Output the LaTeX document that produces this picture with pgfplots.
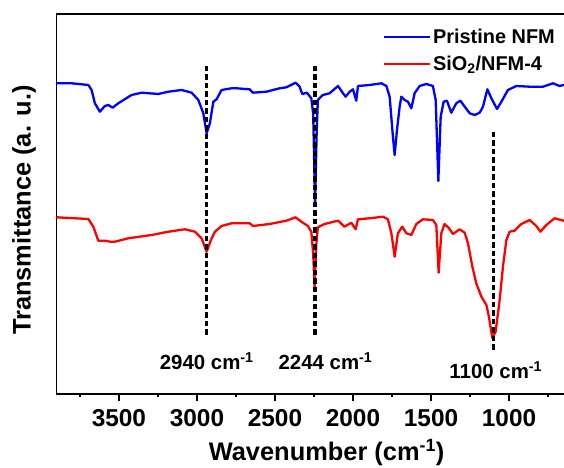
\documentclass[border=0pt]{standalone}
\usepackage{pgfplots}
\pgfplotsset{compat=1.18}
\usepackage{fontspec}
\setmainfont{Liberation Sans}

\definecolor{specblue}{RGB}{0,0,255}
\definecolor{specred}{RGB}{255,0,0}

% FTIR spectra (wavenumber, offset transmittance in arbitrary units)
\pgfplotstableread{
w v
3900 310.7
3803 310.7
3696 309
3675 304
3654 290.7
3622 282.3
3590 288
3568 289
3540 286.3
3504 290.7
3419 299
3354 301.3
3247 300
3183 302.3
3098 304
3034 301.3
2991 294
2959 280.7
2938 260.7
2917 270.7
2895 292.3
2874 294.7
2842 304
2778 305.7
2748 305.7
2662 304.7
2641 301.3
2555 302.3
2470 305.7
2427 306.7
2368 311.3
2342 307.3
2325 300
2295 301.3
2267 295.7
2255 280
2243 190
2233 260
2225 294
2193 299
2150 300.7
2096 308
2064 300.7
2047 297.3
2021 302.3
2000 304.7
1979 293.3
1968 308
1893 309
1818 310.7
1786 308
1765 297.3
1744 257.3
1733 239
1718 264
1701 287.3
1690 297.3
1669 294
1648 292.3
1626 285.7
1605 300.7
1573 308
1530 310
1488 308
1470 294
1453 213
1438 277.3
1419 292.3
1398 293.3
1370 281.3
1338 290.7
1312 293.3
1284 287.3
1252 280.7
1220 279
1188 281.3
1167 287.3
1139 304.7
1113 295.7
1077 285
1049 292.3
1007 304
953 308
868 307.3
782 307.3
718 310.7
676 308
650 309
640 309
}\pristine

\pgfplotstableread{
w v
3900 176.7
3696 175
3664 167.3
3632 153.3
3590 153.3
3558 152.3
3526 152.3
3440 155.7
3290 159
3183 162.3
3077 164.7
3013 162.3
2970 155.7
2938 142.3
2910 154
2885 162.3
2842 168
2778 170.7
2662 170.7
2641 168
2534 170
2427 173.3
2368 176.7
2331 172.3
2289 168
2267 162.3
2255 140
2246 106.7
2235 150
2225 166.7
2182 170
2096 173.3
2054 167.3
2011 171.3
1983 164.7
1968 174.7
1893 175.7
1808 177.3
1776 174.7
1754 160.7
1733 137.3
1712 160.7
1684 167.3
1658 160.7
1626 159
1594 170
1552 174.7
1488 174
1466 169
1451 121.3
1434 160.7
1413 170
1385 165.7
1359 160
1317 164.7
1284 161.3
1263 150.7
1235 127.3
1210 110.7
1177 97.3
1145 89
1129 77.3
1107 56
1086 62.3
1060 94
1039 127.3
1017 154
996 162.3
964 163.3
921 170
868 174
825 168
799 162.3
761 169
708 175.7
650 173.3
640 173
}\composite

\begin{document}
\begin{tikzpicture}[x=1bp,y=1bp]
\useasboundingbox (0,0) rectangle (564,468);
\begin{axis}[
  at={(56.5bp,74bp)}, anchor=south west,
  width=508.7bp, height=380bp, scale only axis,
  x dir=reverse, xmin=640, xmax=3900, ymin=0, ymax=380,
  ytick=\empty,
  xtick={1000,1500,2000,2500,3000,3500},
  xticklabels={1000,1500,2000,2500,3000,3500},
  minor xtick={750,1250,1750,2250,2750,3250,3750},
  xtick pos=left, tick align=outside,
  major tick length=7bp, minor tick length=3.5bp,
  tick style={black, line width=1.6bp},
  axis line style={line width=1.8bp},
  xticklabel style={font=\bfseries\fontsize{24.5}{24.5}\selectfont, anchor=base, yshift=-26bp},
  every axis x label/.style={at={(axis description cs:0.531,-0.175)}, anchor=base,
    font=\bfseries\fontsize{25.5}{25.5}\selectfont},
  every axis y label/.style={at={(axis description cs:-0.064,0.484)}, anchor=center, rotate=90,
    font=\bfseries\fontsize{25.5}{25.5}\selectfont},
  xlabel={Wavenumber (cm\textsuperscript{-1})},
  ylabel={Transmittance (a. u.)},
  legend style={at={(axis description cs:0.636,0.97)}, anchor=north west,
    draw=none, fill=none, font=\bfseries\fontsize{20}{20}\selectfont,
    row sep=8bp, nodes={inner sep=1.5bp}},
  legend cell align=left,
  legend image code/.code={\draw[#1, line width=2.3bp] (0bp,0bp) -- (46bp,0bp);},
]
\addplot[specblue, line width=2.3bp, line join=round] table[x=w, y=v] {\pristine};
\addlegendentry{Pristine NFM}
\addplot[specred, line width=2.3bp, line join=round] table[x=w, y=v] {\composite};
\addlegendentry{SiO\textsubscript{2}/NFM-4}

% band markers
\addplot[black, line width=3.2bp, dash pattern=on 5.5bp off 3bp, forget plot]
  coordinates {(2940,59) (2940,331)};
\addplot[black, line width=3.2bp, dash pattern=on 5.5bp off 3bp, forget plot]
  coordinates {(2244,59) (2244,331)};
\addplot[black, line width=3.2bp, dash pattern=on 5.5bp off 3bp, forget plot]
  coordinates {(1100,44) (1100,265)};

\begin{scope}[every node/.style={font=\bfseries\fontsize{20.5}{20.5}\selectfont, inner sep=0pt, anchor=base west}]
\node at (axis cs:3239,24) {2940 cm\textsuperscript{-1}};
\node at (axis cs:2478,24) {2244 cm\textsuperscript{-1}};
\node at (axis cs:1383,15) {1100 cm\textsuperscript{-1}};
\end{scope}
\end{axis}
\end{tikzpicture}
\end{document}
